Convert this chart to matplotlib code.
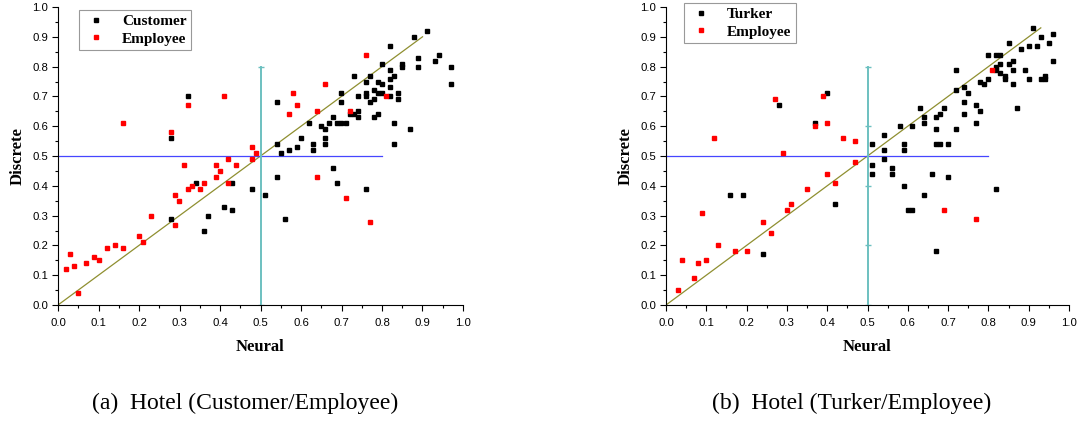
import matplotlib.pyplot as plt
from matplotlib.ticker import MultipleLocator

# (a) Hotel, Customer vs Employee
a_customer_x = [0.32, 0.28, 0.28, 0.34, 0.37, 0.36, 0.41, 0.43, 0.43, 0.48, 0.51,
                0.91, 0.88, 0.82, 0.89, 0.94, 0.93, 0.97, 0.89, 0.85, 0.85, 0.80, 0.82,
                0.83, 0.82, 0.77, 0.73, 0.76, 0.79, 0.80, 0.97, 0.82, 0.78, 0.70, 0.76,
                0.79, 0.80, 0.84, 0.76, 0.74, 0.82, 0.78, 0.84, 0.54, 0.70, 0.77, 0.74,
                0.72, 0.73, 0.79, 0.74, 0.78, 0.68, 0.62, 0.69, 0.70, 0.71, 0.83, 0.67,
                0.65, 0.66, 0.87, 0.60, 0.66, 0.54, 0.63, 0.66, 0.83, 0.59, 0.57, 0.63,
                0.55, 0.68, 0.54, 0.69, 0.76, 0.56]
a_customer_y = [0.70, 0.56, 0.29, 0.41, 0.30, 0.25, 0.33, 0.41, 0.32, 0.39, 0.37,
                0.92, 0.90, 0.87, 0.83, 0.84, 0.82, 0.80, 0.80, 0.81, 0.80, 0.81, 0.79,
                0.77, 0.76, 0.77, 0.77, 0.75, 0.75, 0.74, 0.74, 0.73, 0.72, 0.71, 0.71,
                0.71, 0.71, 0.71, 0.70, 0.70, 0.70, 0.69, 0.69, 0.68, 0.68, 0.68, 0.65,
                0.64, 0.64, 0.64, 0.63, 0.63, 0.63, 0.61, 0.61, 0.61, 0.61, 0.61, 0.61,
                0.60, 0.59, 0.59, 0.56, 0.56, 0.54, 0.54, 0.54, 0.54, 0.53, 0.52, 0.52,
                0.51, 0.46, 0.43, 0.41, 0.39, 0.29]
a_employee_x = [0.02, 0.03, 0.04, 0.05, 0.07, 0.09, 0.10, 0.12, 0.14, 0.16, 0.16,
                0.20, 0.21, 0.23, 0.28, 0.29, 0.29, 0.30, 0.31, 0.32, 0.32, 0.33,
                0.35, 0.36, 0.39, 0.39, 0.40, 0.41, 0.42, 0.42, 0.44, 0.48, 0.48, 0.49,
                0.76, 0.66, 0.58, 0.59, 0.57, 0.64, 0.72, 0.81, 0.64, 0.71, 0.77]
a_employee_y = [0.12, 0.17, 0.13, 0.04, 0.14, 0.16, 0.15, 0.19, 0.20, 0.61, 0.19,
                0.23, 0.21, 0.30, 0.58, 0.37, 0.27, 0.35, 0.47, 0.67, 0.39, 0.40,
                0.39, 0.41, 0.47, 0.43, 0.45, 0.70, 0.49, 0.41, 0.47, 0.53, 0.49, 0.51,
                0.84, 0.74, 0.71, 0.67, 0.64, 0.65, 0.65, 0.70, 0.43, 0.36, 0.28]

# (b) Hotel, Turker vs Employee
b_turker_x = [0.37, 0.40, 0.28, 0.16, 0.19, 0.24, 0.42, 0.51, 0.51, 0.51,
              0.91, 0.96, 0.93, 0.85, 0.95, 0.90, 0.92, 0.88, 0.80, 0.82, 0.83, 0.96,
              0.86, 0.85, 0.83, 0.82, 0.72, 0.82, 0.86, 0.89, 0.83, 0.84, 0.84, 0.90,
              0.93, 0.94, 0.94, 0.80, 0.78, 0.79, 0.86, 0.74, 0.72, 0.75, 0.74, 0.77,
              0.78, 0.87, 0.63, 0.69, 0.68, 0.67, 0.64, 0.74, 0.64, 0.77, 0.58, 0.61,
              0.67, 0.72, 0.54, 0.59, 0.67, 0.68, 0.70, 0.54, 0.59, 0.54, 0.56, 0.56,
              0.66, 0.70, 0.59, 0.82, 0.64, 0.60, 0.61, 0.67]
b_turker_y = [0.61, 0.71, 0.67, 0.37, 0.37, 0.17, 0.34, 0.54, 0.47, 0.44,
              0.93, 0.91, 0.90, 0.88, 0.88, 0.87, 0.87, 0.86, 0.84, 0.84, 0.84, 0.82,
              0.82, 0.81, 0.81, 0.80, 0.79, 0.79, 0.79, 0.79, 0.78, 0.77, 0.76, 0.76,
              0.76, 0.77, 0.76, 0.76, 0.75, 0.74, 0.74, 0.73, 0.72, 0.71, 0.68, 0.67,
              0.65, 0.66, 0.66, 0.66, 0.64, 0.63, 0.63, 0.64, 0.61, 0.61, 0.60, 0.60,
              0.59, 0.59, 0.57, 0.54, 0.54, 0.54, 0.54, 0.52, 0.52, 0.49, 0.46, 0.44,
              0.44, 0.43, 0.40, 0.39, 0.37, 0.32, 0.32, 0.18]
b_employee_x = [0.03, 0.04, 0.07, 0.08, 0.09, 0.10, 0.12, 0.13, 0.17, 0.20, 0.24,
                0.26, 0.27, 0.29, 0.30, 0.31, 0.35, 0.37, 0.39, 0.40, 0.40, 0.42,
                0.44, 0.47, 0.47, 0.81, 0.69, 0.77]
b_employee_y = [0.05, 0.15, 0.09, 0.14, 0.31, 0.15, 0.56, 0.20, 0.18, 0.18, 0.28,
                0.24, 0.69, 0.51, 0.32, 0.34, 0.39, 0.60, 0.70, 0.61, 0.44, 0.41,
                0.56, 0.55, 0.48, 0.79, 0.32, 0.29]

panels = [
    ("Customer", a_customer_x, a_customer_y, a_employee_x, a_employee_y, 0.90,
     "(a)  Hotel (Customer/Employee)", False),
    ("Turker", b_turker_x, b_turker_y, b_employee_x, b_employee_y, 0.93,
     "(b)  Hotel (Turker/Employee)", True),
]

W, H = 1081, 421
fig = plt.figure(figsize=(W / 100, H / 100), dpi=100)

tick_font = "Liberation Sans"
serif = "Liberation Serif"

axes_px = [(58, 7, 405, 298), (666, 7, 403, 298)]
legend_px = [(79, 10), (684, 3)]
caption_x = [245, 852]

for (name, xs, ys, ex, ey, diag_end, caption, mid_ticks), (l, t, w, h), (lx, ly), cx in zip(
        panels, axes_px, legend_px, caption_x):
    ax = fig.add_axes([l / W, (H - t - h) / H, w / W, h / H])

    ax.plot([0, diag_end], [0, diag_end], color="#8f8f30", lw=0.9, zorder=1)
    ax.plot([0, 0.8], [0.5, 0.5], color="#4646ff", lw=0.9, zorder=1)
    ax.plot([0.5, 0.5], [0, 0.8], color="#6cc0c0", lw=1.4, zorder=1)
    cap_y = [0, 0.2, 0.4, 0.6, 0.8] if mid_ticks else [0, 0.8]
    ax.plot([0.5] * len(cap_y), cap_y, ls="none", marker="_", ms=5,
            mew=1.0, color="#6cc0c0", zorder=1)

    ax.plot(xs, ys, ls="none", marker="s", ms=2.8, color="black", label=name, zorder=3)
    ax.plot(ex, ey, ls="none", marker="s", ms=2.8, color="red", label="Employee", zorder=3)

    ax.set_xlim(0, 1.0)
    ax.set_ylim(0, 1.0)
    ax.xaxis.set_major_locator(MultipleLocator(0.1))
    ax.yaxis.set_major_locator(MultipleLocator(0.1))
    ax.xaxis.set_minor_locator(MultipleLocator(0.05))
    ax.yaxis.set_minor_locator(MultipleLocator(0.05))
    ax.xaxis.set_major_formatter(lambda v, p: f"{v:.1f}")
    ax.yaxis.set_major_formatter(lambda v, p: f"{v:.1f}")
    ax.tick_params(which="major", direction="out", length=4, width=0.8, labelsize=8.2)
    ax.tick_params(axis="x", which="major", pad=5)
    ax.tick_params(axis="y", which="major", pad=3)
    ax.tick_params(which="minor", direction="out", length=2, width=0.8)
    for lab in ax.get_xticklabels() + ax.get_yticklabels():
        lab.set_fontfamily(tick_font)
    for s in ("top", "right"):
        ax.spines[s].set_visible(False)
    for s in ("left", "bottom"):
        ax.spines[s].set_linewidth(0.8)

    ax.set_xlabel("Neural", fontfamily=serif, fontweight="bold", fontsize=12, labelpad=8)
    ax.set_ylabel("Discrete", fontfamily=serif, fontweight="bold", fontsize=12, labelpad=5)

    leg = ax.legend(loc="upper left", bbox_to_anchor=(lx / W, 1 - ly / H),
                    bbox_transform=fig.transFigure, frameon=True, fancybox=False,
                    prop={"family": serif, "weight": "bold", "size": 11},
                    handlelength=1.6, handletextpad=0.9, borderpad=0.3,
                    labelspacing=0.25, borderaxespad=0)
    leg.get_frame().set_edgecolor("#808080")
    leg.get_frame().set_linewidth(0.8)

    fig.text(cx / W, 1 - 403 / H, caption, ha="center", va="center",
             fontfamily=serif, fontsize=17)

fig.savefig("out.png", dpi=100)
